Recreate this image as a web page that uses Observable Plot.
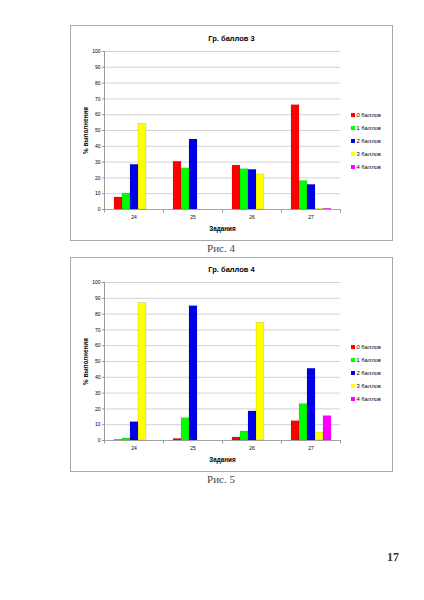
<!DOCTYPE html>
<html>
<head>
<meta charset="utf-8">
<script src="https://cdn.jsdelivr.net/npm/d3@7"></script>
<script src="https://cdn.jsdelivr.net/npm/@observablehq/plot@0.6"></script>
<style>
  body { margin: 0; background: #fff; }
  #page { position: relative; width: 424px; height: 600px; background: #fff; overflow: hidden; }
  .box { position: absolute; left: 70px; width: 321px; border: 1.3px solid #a8a8a8; background: #fff; }
  .box svg { position: absolute; left: 0; top: 0; }
  .title { position: absolute; left: 0; width: 100%; text-align: center; font: bold 7.5px "Liberation Sans", Arial, sans-serif; line-height: 9px; color: #000; }
  .legend { position: absolute; left: 280px; font: 5.8px "Liberation Sans", Arial, sans-serif; color: #000; }
  .legend .item { height: 12.9px; display: flex; align-items: center; }
  .legend .sw { width: 4px; height: 4px; margin-right: 1.5px; }
  .caption { position: absolute; width: 80px; text-align: center; font: 11px "Liberation Serif", "Times New Roman", serif; line-height: 12px; color: #444; }
  g[aria-label$="axis label"] text { font-weight: bold; font-size: 6.3px; }
</style>
</head>
<body>
<div id="page"></div>
<script>
// задания и категории баллов
const tasks = ['24', '25', '26', '27'];
const series = ['0 баллов', '1 баллов', '2 баллов', '3 баллов', '4 баллов'];
const colors = ['#ff0000', '#00ff00', '#0000e6', '#ffff00', '#ff00ff'];
const yTicks = [0, 10, 20, 30, 40, 50, 60, 70, 80, 90, 100];

// Гр. баллов 3 (% выполнения по заданиям 24..27)
const gr3_b0 = [7.6, 30.2, 27.8, 66.0];
const gr3_b1 = [10.1, 26.0, 25.5, 18.0];
const gr3_b2 = [28.3, 44.3, 25.1, 15.6];
const gr3_b3 = [54.2, 0, 22.2, 0.3];
const gr3_b4 = [0, 0, 0, 0.4];

// Гр. баллов 4
const gr4_b0 = [0.3, 1.0, 1.9, 12.2];
const gr4_b1 = [1.3, 14.1, 5.7, 23.0];
const gr4_b2 = [11.6, 85.0, 18.4, 45.4];
const gr4_b3 = [87.0, 0, 74.5, 5.0];
const gr4_b4 = [0, 0, 0, 15.4];

const page = d3.select('#page');

function chart(title, values, top, height, marginTop, titleTop) {
  const rows = [];
  tasks.forEach((t, i) => {
    series.forEach((s, j) => rows.push({task: t, series: s, value: values[j][i]}));
  });

  const box = page.append('div').attr('class', 'box')
    .style('top', top + 'px').style('height', height + 'px');

  const plotH = 158; // высота области построения
  const plot = Plot.plot({
    width: 321,
    height: height,
    marginTop: marginTop,
    marginBottom: height - marginTop - plotH,
    marginLeft: 32,
    marginRight: 52,
    style: {fontFamily: '"Liberation Sans", Arial, sans-serif', background: 'transparent', color: '#000'},
    fx: {domain: tasks, padding: 0},
    x: {domain: series, paddingInner: 0, paddingOuter: 0.79, axis: null},
    y: {domain: [0, 100]},
    color: {domain: series, range: colors},
    marks: [
      Plot.gridY(yTicks, {stroke: '#c6c6c6', strokeOpacity: 1, strokeWidth: 0.8}),
      Plot.frame({anchor: 'left', stroke: '#999', fx: [tasks[0]]}),
      // засечки между группами
      Plot.frame({anchor: 'left', stroke: '#999', insetTop: plotH, insetBottom: -2.5}),
      Plot.frame({anchor: 'right', stroke: '#999', insetTop: plotH, insetBottom: -2.5, fx: [tasks[3]]}),
      Plot.ruleY([0], {stroke: '#999', strokeWidth: 0.8}),
      Plot.barY(rows.filter(d => d.value > 0), {
        fx: 'task', x: 'series', y: 'value', fill: 'series',
        stroke: '#000', strokeOpacity: 0.2, strokeWidth: 0.5
      }),
      Plot.axisY(yTicks, {
        tickSize: 2, tickPadding: 2, fontSize: 5, stroke: '#999',
        label: '% выполнения', labelAnchor: 'center', labelArrow: 'none', labelOffset: 21
      }),
      Plot.axisFx({
        anchor: 'bottom', tickSize: 0, tickPadding: 6, fontSize: 5,
        label: 'Задания', labelAnchor: 'center', labelArrow: 'none', labelOffset: 21
      })
    ]
  });
  box.append(() => plot);

  box.append('div').attr('class', 'title').style('top', titleTop + 'px').text(title);

  const leg = box.append('div').attr('class', 'legend').style('top', '83px');
  const item = leg.selectAll('div').data(series).join('div').attr('class', 'item');
  item.append('div').attr('class', 'sw').style('background', (d, i) => colors[i]);
  item.append('span').text(d => d);
}

chart('Гр. баллов 3', [gr3_b0, gr3_b1, gr3_b2, gr3_b3, gr3_b4], 25, 214, 25, 8);
page.append('div').attr('class', 'caption').style('left', '181px').style('top', '242px').text('Рис. 4');

chart('Гр. баллов 4', [gr4_b0, gr4_b1, gr4_b2, gr4_b3, gr4_b4], 257, 213, 24, 6.8);
page.append('div').attr('class', 'caption').style('left', '181px').style('top', '473px').text('Рис. 5');

page.append('div').attr('class', 'caption')
  .style('left', '353px').style('top', '551px')
  .style('font-size', '12px').style('font-weight', 'bold').style('color', '#333')
  .text('17');
</script>
</body>
</html>
